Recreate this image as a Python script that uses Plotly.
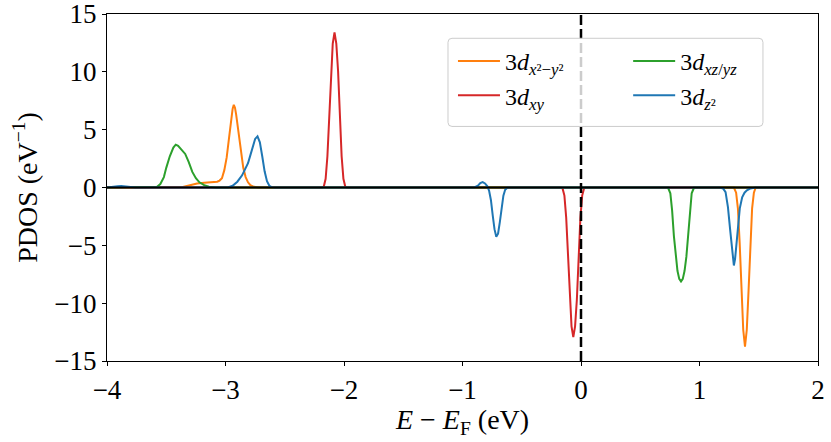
import plotly.graph_objects as go

# ---------------- data ----------------
# 3d_{x2-y2} (orange)
e_x2y2 = [-4.0, -3.40, -3.36, -3.30, -3.24, -3.18, -3.12, -3.07, -3.05, -3.03, -3.01, -2.99,
          -2.97, -2.95, -2.94, -2.93, -2.92, -2.91, -2.89, -2.87, -2.85, -2.83, -2.81, -2.79,
          -2.76, -2.72,
          1.29, 1.309, 1.324, 1.339, 1.354, 1.369, 1.384, 1.399, 1.414, 1.429, 1.444, 1.459,
          1.474, 2.0]
p_x2y2 = [0, 0, 0.05, 0.2, 0.35, 0.4, 0.45, 0.5, 0.6, 0.8, 1.5, 2.6,
          4.3, 6.2, 6.8, 7.15, 6.9, 6.3, 4.7, 3.0, 1.7, 0.9, 0.45, 0.2,
          0.06, 0,
          0, -0.45, -1.8, -4.8, -8.9, -12.3, -13.75, -12.3, -8.9, -4.8, -1.8, -0.45,
          0, 0]

# 3d_{xy} (red)
e_xy = [-4.0, -2.185, -2.17, -2.155, -2.14, -2.125, -2.11, -2.095, -2.08, -2.065, -2.05,
        -2.035, -2.02, -2.005, -1.99, -1.975,
        -0.17, -0.155, -0.14, -0.125, -0.11, -0.095, -0.08, -0.065, -0.05, -0.035, -0.02,
        -0.005, 0.01, 0.025, 0.04, 2.0]
p_xy = [0, 0, 0.1, 0.75, 2.7, 6.2, 10.05, 12.45, 13.4, 12.45, 10.05,
        6.2, 2.7, 0.75, 0.1, 0,
        0, -0.1, -0.7, -2.6, -6.0, -9.7, -12.0, -12.94, -12.0, -9.7, -6.0,
        -2.6, -0.7, -0.1, 0, 0]

# 3d_{xz/yz} (green)
e_xzyz = [-4.0, -3.62, -3.58, -3.55, -3.52, -3.50, -3.47, -3.44, -3.42, -3.40, -3.37, -3.34,
          -3.31, -3.28, -3.25, -3.22, -3.18, -3.14, -3.08,
          0.734, 0.754, 0.769, 0.784, 0.799, 0.814, 0.829, 0.844, 0.859, 0.874, 0.889, 0.904,
          0.919, 0.934, 0.954, 2.0]
p_xzyz = [0, 0, 0.05, 0.3, 0.9, 1.7, 2.7, 3.45, 3.7, 3.6, 3.25, 2.9,
          2.2, 1.35, 0.8, 0.45, 0.2, 0.06, 0,
          0, -0.5, -2.0, -4.2, -6.0, -7.2, -7.9, -8.12, -7.9, -7.2, -6.0, -4.2,
          -2.0, -0.5, 0, 0]

# 3d_{z2} (blue)
e_z2 = [-4.0, -3.95, -3.91, -3.88, -3.85, -3.81, -3.76, -3.70,
        -2.98, -2.94, -2.90, -2.86, -2.83, -2.81, -2.79, -2.77, -2.75, -2.73, -2.71, -2.69,
        -2.67, -2.65, -2.63, -2.61, -2.58,
        -0.90, -0.87, -0.85, -0.83, -0.81, -0.79, -0.775, -0.76, -0.745, -0.73, -0.715,
        -0.70, -0.685, -0.67, -0.655, -0.64, -0.62,
        1.17, 1.20, 1.22, 1.24, 1.26, 1.28, 1.29, 1.30, 1.32, 1.34, 1.36, 1.38, 1.40, 1.43,
        1.47, 2.0]
p_z2 = [0, 0.02, 0.1, 0.13, 0.1, 0.04, 0.01, 0,
        0, 0.15, 0.5, 1.05, 1.6, 2.1, 2.8, 3.6, 4.2, 4.42, 3.9, 2.7,
        1.4, 0.55, 0.15, 0.03, 0,
        0, 0.15, 0.38, 0.47, 0.35, 0.1, -0.3, -1.1, -2.4, -3.6, -4.25,
        -4.0, -3.0, -1.7, -0.7, -0.2, 0,
        0, -0.1, -0.4, -1.7, -3.8, -6.0, -6.74, -6.2, -4.0, -1.8, -0.85, -0.45, -0.25, -0.08,
        0, 0]

x_ticks = [-4, -3, -2, -1, 0, 1, 2]
y_ticks = [-15, -10, -5, 0, 5, 10, 15]

names = {
    "x2y2": "3<i>d</i><sub><i>x</i>²−<i>y</i>²</sub>",
    "xy": "3<i>d</i><sub><i>xy</i></sub>",
    "xzyz": "3<i>d</i><sub><i>xz</i>/<i>yz</i></sub>",
    "z2": "3<i>d</i><sub><i>z</i>²</sub>",
}
colors = {"x2y2": "#ff7f0e", "xy": "#d62728", "xzyz": "#2ca02c", "z2": "#1f77b4"}

FONT = "Liberation Serif"

fig = go.Figure()
fig.add_trace(go.Scatter(x=e_x2y2, y=p_x2y2, mode="lines", name=names["x2y2"],
                         line=dict(color=colors["x2y2"], width=2), legend="legend"))
fig.add_trace(go.Scatter(x=e_xy, y=p_xy, mode="lines", name=names["xy"],
                         line=dict(color=colors["xy"], width=2), legend="legend"))
fig.add_trace(go.Scatter(x=e_xzyz, y=p_xzyz, mode="lines", name=names["xzyz"],
                         line=dict(color=colors["xzyz"], width=2), legend="legend2"))
fig.add_trace(go.Scatter(x=e_z2, y=p_z2, mode="lines", name=names["z2"],
                         line=dict(color=colors["z2"], width=2), legend="legend2"))

# zero line and Fermi level
fig.add_shape(type="line", xref="paper", yref="y", x0=0, x1=1, y0=0, y1=0,
              line=dict(color="black", width=2), layer="above")
fig.add_shape(type="line", xref="x", yref="paper", x0=0, x1=0, y0=0, y1=1,
              line=dict(color="black", width=2.5, dash="10px,4px"), layer="above")

# legend frame (rounded, semi-transparent)
x0, x1, y0, y1 = 0.4796, 0.9226, 0.676, 0.930
rx, ry = 0.0056, 0.0115
path = (f"M {x0+rx},{y1} L {x1-rx},{y1} Q {x1},{y1} {x1},{y1-ry} "
        f"L {x1},{y0+ry} Q {x1},{y0} {x1-rx},{y0} L {x0+rx},{y0} "
        f"Q {x0},{y0} {x0},{y0+ry} L {x0},{y1-ry} Q {x0},{y1} {x0+rx},{y1} Z")
fig.add_shape(type="path", xref="paper", yref="paper", path=path,
              fillcolor="rgba(255,255,255,0.8)", line=dict(color="#cccccc", width=1),
              layer="above")

legend_common = dict(bgcolor="rgba(0,0,0,0)", borderwidth=0, itemwidth=42,
                     font=dict(family=FONT, size=24, color="black"),
                     yanchor="top", xanchor="left", orientation="v")

fig.update_layout(
    width=831, height=442,
    margin=dict(l=107, r=13, t=14, b=81, autoexpand=False),
    paper_bgcolor="white", plot_bgcolor="white",
    font=dict(family=FONT, color="black"),
    showlegend=True,
    legend=dict(x=0.4866, y=0.928, **legend_common),
    legend2=dict(x=0.733, y=0.928, **legend_common),
    xaxis=dict(range=[-4, 2], tickvals=x_ticks, ticks="outside", ticklen=4, tickwidth=1.2,
               tickcolor="black", showline=True, linecolor="black", linewidth=1.2,
               mirror=True, showgrid=False, zeroline=False, automargin=False,
               ticklabeloverflow="allow",
               tickfont=dict(family=FONT, size=27),
               title=dict(text="<i>E</i> − <i>E</i><sub>F</sub> (eV)",
                          font=dict(family=FONT, size=28), standoff=0)),
    yaxis=dict(range=[-15, 15], tickvals=y_ticks, ticks="outside", ticklen=4, tickwidth=1.2,
               tickcolor="black", showline=True, linecolor="black", linewidth=1.2,
               mirror=True, showgrid=False, zeroline=False, automargin=False,
               ticklabeloverflow="allow",
               tickfont=dict(family=FONT, size=27),
               title=dict(text="PDOS (eV<sup>−1</sup>)",
                          font=dict(family=FONT, size=28), standoff=8)),
)

fig.write_html("out.html",
               config={"displayModeBar": False},
               post_script="document.body.style.margin='0';document.body.style.overflow='hidden';")
